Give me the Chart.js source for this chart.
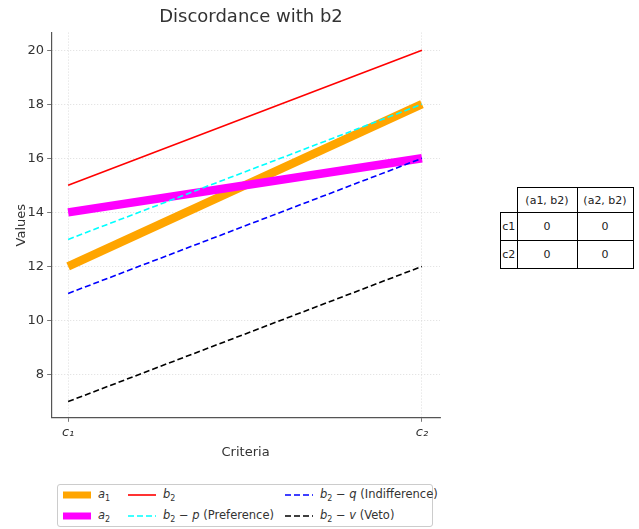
<!DOCTYPE html>
<html>
<head>
<meta charset="utf-8">
<script src="https://cdn.jsdelivr.net/npm/chart.js@4"></script>
<style>
  body { margin: 0; background: #fff; font-family: "DejaVu Sans", sans-serif; }
  #wrap { position: relative; width: 639px; height: 529px; }
  #chart { position: absolute; left: 0; top: 0; }
  #legend { position: absolute; left: 57px; top: 484px; width: 374px; height: 41px;
    border: 1px solid #ccc; border-radius: 3px; font-size: 11.5px; color: #333; }
  .item { position: absolute; display: flex; align-items: center; white-space: nowrap; }
  .item svg { margin-right: 7px; }
  .item sub { font-size: 8px; }
  #tbl { position: absolute; left: 500px; top: 187px; border-collapse: collapse;
    font-size: 11px; color: #222; }
  #tbl td { border: 1px solid #000; text-align: center; padding: 0; }
  #tbl td.empty { border: none; }
</style>
</head>
<body>
<div id="wrap">
  <canvas id="chart" width="496" height="468"></canvas>
  <div id="legend"></div>
  <table id="tbl">
    <tr style="height:25px"><td class="empty" style="width:16px"></td><td style="width:59px">(a1, b2)</td><td style="width:55px">(a2, b2)</td></tr>
    <tr style="height:28px"><td>c1</td><td>0</td><td>0</td></tr>
    <tr style="height:28px"><td>c2</td><td>0</td><td>0</td></tr>
  </table>
</div>
<script>
// criteria positions and labels
var criteria = [0, 1];
var criteriaLabels = ['c\u2081', 'c\u2082'];

// series values at c1, c2
var a1 = [12, 18];
var a2 = [14, 16];
var b2 = [15, 20];
var b2_p = [13, 18];
var b2_q = [11, 16];
var b2_v = [7, 12];

var yTicks = [8, 10, 12, 14, 16, 18, 20];

function pts(vals) {
  return vals.map(function (v, i) { return { x: criteria[i], y: v }; });
}

var series = [
  { label: 'a1', data: a1, color: '#FFA500', width: 8.5, dash: [], order: 6, html: '<i>a</i><sub>1</sub>' },
  { label: 'a2', data: a2, color: '#FF00FF', width: 8.5, dash: [], order: 5, html: '<i>a</i><sub>2</sub>' },
  { label: 'b2', data: b2, color: '#FF0000', width: 1.6, dash: [], order: 4, html: '<i>b</i><sub>2</sub>' },
  { label: 'b2 - p (Preference)', data: b2_p, color: '#00FFFF', width: 1.6, dash: [6, 3], order: 3, html: '<i>b</i><sub>2</sub> &minus; <i>p</i> (Preference)' },
  { label: 'b2 - q (Indifference)', data: b2_q, color: '#0000FF', width: 1.6, dash: [6, 3], order: 2, html: '<i>b</i><sub>2</sub> &minus; <i>q</i> (Indifference)' },
  { label: 'b2 - v (Veto)', data: b2_v, color: '#000000', width: 1.6, dash: [6, 3], order: 1, html: '<i>b</i><sub>2</sub> &minus; <i>v</i> (Veto)' }
];

var ctx = document.getElementById('chart');
var chart = new Chart(ctx, {
  type: 'line',
  data: {
    datasets: series.map(function (s) {
      return {
        label: s.label,
        data: pts(s.data),
        borderColor: s.color,
        backgroundColor: s.color,
        borderWidth: s.width,
        borderDash: s.dash,
        borderCapStyle: 'butt',
        pointRadius: 0,
        fill: false,
        order: s.order
      };
    })
  },
  options: {
    responsive: false,
    animation: false,
    layout: { padding: { left: 8, right: 56, top: 0, bottom: 4 } },
    plugins: {
      legend: { display: false },
      tooltip: { enabled: false },
      title: {
        display: true,
        text: 'Discordance with b2',
        color: '#333',
        font: { family: 'DejaVu Sans', size: 18, weight: 'normal' },
        padding: { top: 7, bottom: 4 }
      }
    },
    scales: {
      x: {
        type: 'linear',
        min: -0.048,
        max: 1.051,
        afterBuildTicks: function (axis) {
          axis.ticks = criteria.map(function (v) { return { value: v }; });
        },
        ticks: {
          color: '#333',
          font: { family: 'DejaVu Sans', size: 13, style: 'italic' },
          callback: function (v) { return criteriaLabels[criteria.indexOf(v)]; },
          padding: 3
        },
        grid: {
          color: '#d4d4d4',
          lineWidth: 0.8,
          tickColor: '#555',
          tickLength: 4
        },
        border: { display: true, color: '#555', width: 1.2, dash: [1, 2] },
        title: { display: true, text: 'Criteria', color: '#333', font: { family: 'DejaVu Sans', size: 13 }, padding: { top: 1 } }
      },
      y: {
        min: 6.4,
        max: 20.65,
        afterBuildTicks: function (axis) {
          axis.ticks = yTicks.map(function (v) { return { value: v }; });
        },
        ticks: {
          color: '#333',
          font: { family: 'DejaVu Sans', size: 13 },
          padding: 3
        },
        grid: {
          color: '#d4d4d4',
          lineWidth: 0.8,
          tickColor: '#555',
          tickLength: 4
        },
        border: { display: true, color: '#555', width: 1.2, dash: [1, 2] },
        title: { display: true, text: 'Values', color: '#333', font: { family: 'DejaVu Sans', size: 13 }, padding: { top: 6, bottom: -5 } }
      }
    }
  },
  plugins: [{
    // the title sits over the whole figure, not only over the plot
    id: 'shiftTitle',
    afterLayout: function (c) {
      if (c.titleBlock) {
        c.titleBlock.left += 27;
        c.titleBlock.right += 27;
      }
    }
  }]
});

// legend, column-major like the reference
var legend = document.getElementById('legend');
var colX = [5, 70, 227];
var rowY = [10, 31];
series.forEach(function (s, i) {
  var col = Math.floor(i / 2), row = i % 2;
  var div = document.createElement('div');
  div.className = 'item';
  div.style.left = colX[col] + 'px';
  div.style.top = (rowY[row] - 8) + 'px';
  div.style.height = '16px';
  var dash = s.dash.length ? 'stroke-dasharray="' + s.dash.join(',') + '"' : '';
  div.innerHTML = '<svg width="28" height="12"><line x1="0" y1="6" x2="28" y2="6" stroke="' + s.color +
    '" stroke-width="' + (s.width > 2 ? 7 : 1.6) + '" ' + dash + '/></svg><span>' + s.html + '</span>';
  legend.appendChild(div);
});
</script>
</body>
</html>
